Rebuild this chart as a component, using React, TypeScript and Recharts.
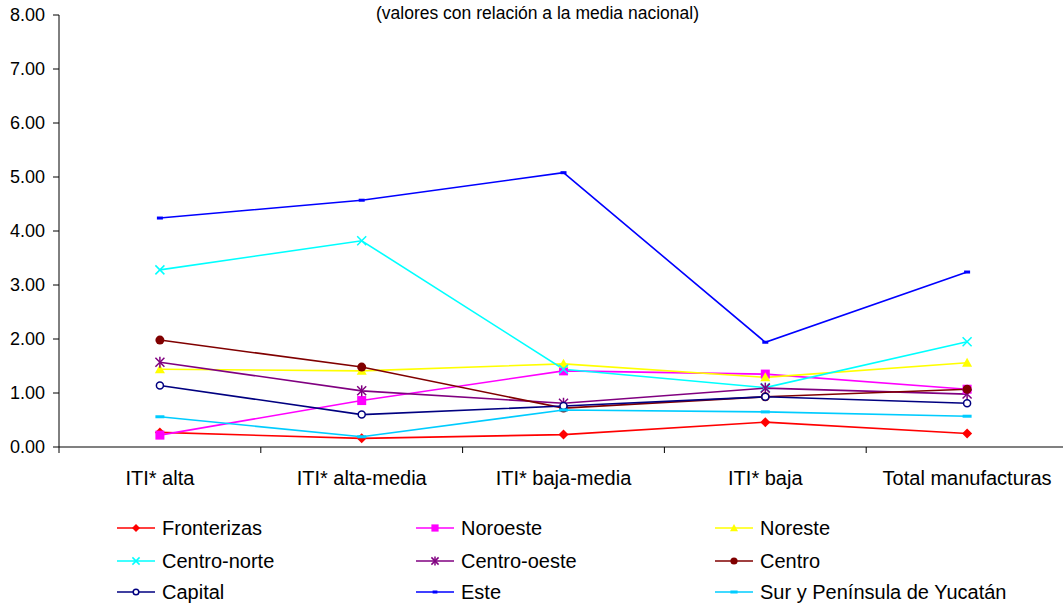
import React from "react";
import { LineChart, Line, XAxis, YAxis } from "recharts";

// Categories along the horizontal axis
const categories = [
  "ITI* alta",
  "ITI* alta-media",
  "ITI* baja-media",
  "ITI* baja",
  "Total manufacturas",
];

// Regional values relative to the national mean
const fronterizas = [0.27, 0.16, 0.23, 0.46, 0.25];
const noroeste = [0.22, 0.86, 1.41, 1.35, 1.07];
const noreste = [1.44, 1.41, 1.54, 1.29, 1.56];
const centroNorte = [3.28, 3.82, 1.44, 1.1, 1.95];
const centroOeste = [1.57, 1.04, 0.81, 1.09, 0.98];
const centro = [1.98, 1.48, 0.72, 0.93, 1.07];
const capital = [1.14, 0.6, 0.76, 0.93, 0.81];
const este = [4.24, 4.57, 5.08, 1.94, 3.24];
const sur = [0.56, 0.19, 0.685, 0.65, 0.57];

const yTicks = [0, 1, 2, 3, 4, 5, 6, 7, 8];

const title = "(valores con relación a la media nacional)";

type Shape =
  | "diamond"
  | "square"
  | "triangle"
  | "x"
  | "star"
  | "dot"
  | "ring"
  | "dash"
  | "bar";

interface SeriesDef {
  key: string;
  name: string;
  color: string;
  shape: Shape;
  values: number[];
}

const series: SeriesDef[] = [
  { key: "fronterizas", name: "Fronterizas", color: "#FF0000", shape: "diamond", values: fronterizas },
  { key: "noroeste", name: "Noroeste", color: "#FF00FF", shape: "square", values: noroeste },
  { key: "noreste", name: "Noreste", color: "#FFFF00", shape: "triangle", values: noreste },
  { key: "centroNorte", name: "Centro-norte", color: "#00FFFF", shape: "x", values: centroNorte },
  { key: "centroOeste", name: "Centro-oeste", color: "#800080", shape: "star", values: centroOeste },
  { key: "centro", name: "Centro", color: "#800000", shape: "dot", values: centro },
  { key: "capital", name: "Capital", color: "#000080", shape: "ring", values: capital },
  { key: "este", name: "Este", color: "#0000FF", shape: "dash", values: este },
  { key: "sur", name: "Sur y Península de Yucatán", color: "#00CCFF", shape: "bar", values: sur },
];

// Each category sits in the middle of its band on a numeric axis [0, n]
const data = categories.map((c, i) => {
  const row: Record<string, number | string> = { x: i + 0.5, name: c };
  series.forEach((s) => {
    row[s.key] = s.values[i];
  });
  return row;
});

const CHART_W = 1068;
const CHART_H = 607;
const Y_AXIS_W = 51;
const X_AXIS_H = 40;
const MARGIN = { top: 15, right: 0, left: 8, bottom: 120 };
const BAND = (CHART_W - Y_AXIS_W - MARGIN.left - MARGIN.right) / categories.length;
const FONT = "Arial, 'Liberation Sans', sans-serif";

function Marker({ shape, color, cx, cy, s = 1 }: { shape: Shape; color: string; cx: number; cy: number; s?: number }) {
  switch (shape) {
    case "diamond": {
      const r = 5 * s;
      return <polygon points={`${cx},${cy - r} ${cx + r},${cy} ${cx},${cy + r} ${cx - r},${cy}`} fill={color} />;
    }
    case "square": {
      const r = 4.5 * s;
      return <rect x={cx - r} y={cy - r} width={2 * r} height={2 * r} fill={color} />;
    }
    case "triangle": {
      const r = 5 * s;
      return <polygon points={`${cx},${cy - r} ${cx + r},${cy + r * 0.8} ${cx - r},${cy + r * 0.8}`} fill={color} />;
    }
    case "x": {
      const r = 4.5 * s;
      return (
        <g stroke={color} strokeWidth={1.5}>
          <line x1={cx - r} y1={cy - r} x2={cx + r} y2={cy + r} />
          <line x1={cx - r} y1={cy + r} x2={cx + r} y2={cy - r} />
        </g>
      );
    }
    case "star": {
      const r = 4.5 * s;
      return (
        <g stroke={color} strokeWidth={1.5}>
          <line x1={cx - r} y1={cy - r} x2={cx + r} y2={cy + r} />
          <line x1={cx - r} y1={cy + r} x2={cx + r} y2={cy - r} />
          <line x1={cx} y1={cy - r - 1} x2={cx} y2={cy + r + 1} />
        </g>
      );
    }
    case "dot":
      return <circle cx={cx} cy={cy} r={4.5 * s} fill={color} />;
    case "ring":
      return <circle cx={cx} cy={cy} r={3.5 * s} fill="#fff" stroke={color} strokeWidth={1.5} />;
    case "dash":
      return <rect x={cx - 3 * s} y={cy - 1.5} width={6 * s} height={3} fill={color} />;
    case "bar":
      return <rect x={cx - 4.5 * s} y={cy - 1.5} width={9 * s} height={3} fill={color} />;
    default:
      return null;
  }
}

function CategoryTick(props: any) {
  const { x, y, payload } = props;
  const idx = payload.value as number;
  if (idx >= categories.length) return null;
  return (
    <text x={x + BAND / 2} y={y} dy={32} textAnchor="middle" fontSize={20} fontFamily={FONT} fill="#000">
      {categories[idx]}
    </text>
  );
}

const legendColumns = [117, 416, 715];
const legendRows = [528, 561, 592];

export default function App() {
  return (
    <div
      style={{
        position: "relative",
        width: 1063,
        height: CHART_H,
        overflow: "hidden",
        background: "#fff",
        fontFamily: FONT,
      }}
    >
      <style>{"body{margin:0}"}</style>
      <LineChart width={CHART_W} height={CHART_H} data={data} margin={MARGIN}>
        <XAxis
          dataKey="x"
          type="number"
          domain={[0, categories.length]}
          ticks={categories.map((_, i) => i).concat([categories.length])}
          interval={0}
          height={X_AXIS_H}
          axisLine={{ stroke: "#808080", strokeWidth: 2 }}
          tickLine={{ stroke: "#000", strokeWidth: 1 }}
          tickSize={6}
          tickMargin={0}
          tick={<CategoryTick />}
          allowDataOverflow
        />
        <YAxis
          type="number"
          domain={[0, 8]}
          ticks={yTicks}
          interval={0}
          width={Y_AXIS_W}
          axisLine={{ stroke: "#000", strokeWidth: 1 }}
          tickLine={{ stroke: "#000", strokeWidth: 1 }}
          tickSize={6}
          tickMargin={8}
          tickFormatter={(v: number) => v.toFixed(2)}
          tick={{ fontSize: 18, fill: "#000", fontFamily: FONT }}
        />
        {series.map((s) => (
          <Line
            key={s.key}
            dataKey={s.key}
            name={s.name}
            stroke={s.color}
            strokeWidth={1.6}
            isAnimationActive={false}
            activeDot={false}
            dot={(p: any) => <Marker key={`${s.key}-${p.index}`} shape={s.shape} color={s.color} cx={p.cx} cy={p.cy} />}
          />
        ))}
      </LineChart>
      <div
        style={{
          position: "absolute",
          left: 0,
          width: 1075,
          top: 3,
          zIndex: 2,
          textAlign: "center",
          fontSize: 17.5,
          lineHeight: "20px",
          color: "#000",
          whiteSpace: "nowrap",
          pointerEvents: "none",
        }}
      >
        {title}
      </div>
      {series.map((s, i) => {
        const left = legendColumns[i % 3];
        const top = legendRows[Math.floor(i / 3)];
        return (
          <div
            key={s.key}
            style={{
              position: "absolute",
              left,
              top: top - 12,
              height: 24,
              display: "flex",
              alignItems: "center",
              whiteSpace: "nowrap",
            }}
          >
            <svg width={38} height={24} style={{ display: "block" }}>
              <line x1={0} y1={12} x2={38} y2={12} stroke={s.color} strokeWidth={1.6} />
              <Marker shape={s.shape} color={s.color} cx={19} cy={12} s={0.8} />
            </svg>
            <span style={{ marginLeft: 7, fontSize: 20, color: "#000" }}>{s.name}</span>
          </div>
        );
      })}
    </div>
  );
}
